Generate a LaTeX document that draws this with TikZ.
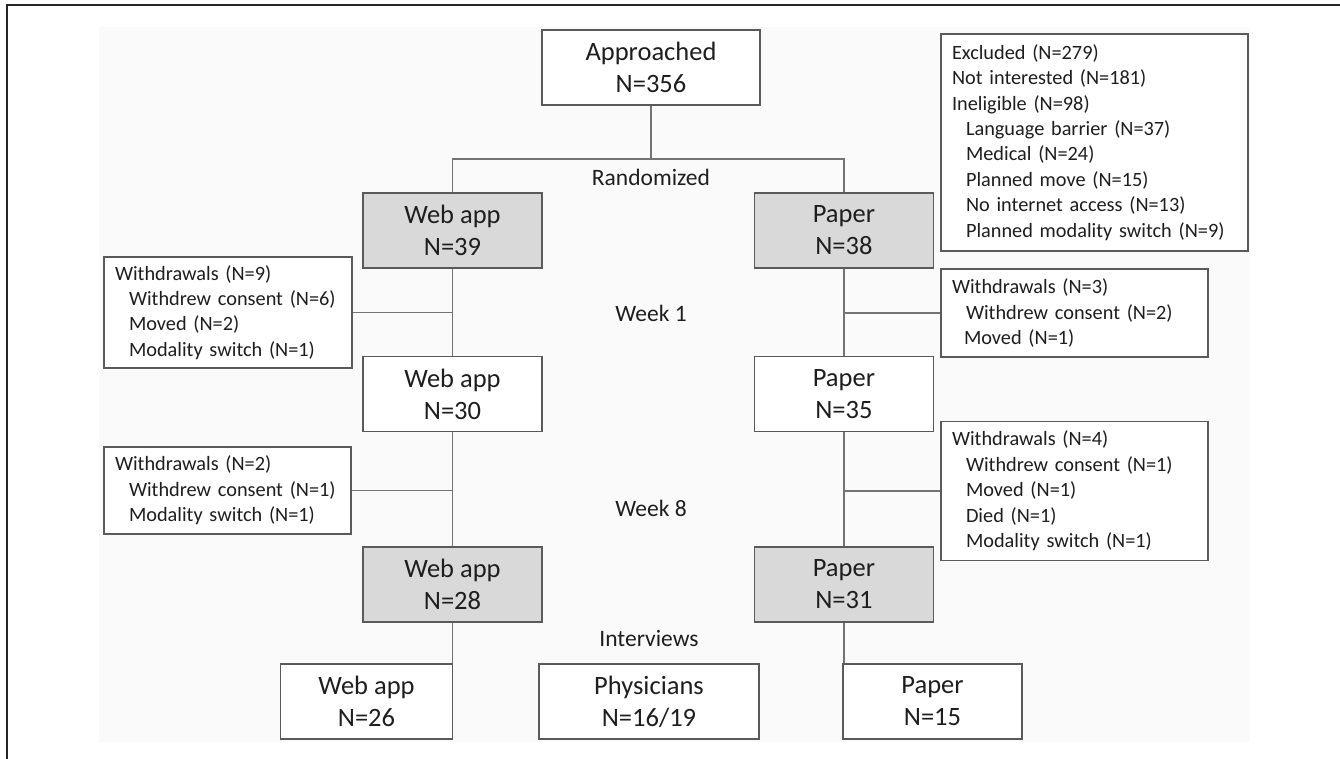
\documentclass[tikz,border=0pt]{standalone}
\usepackage{fontspec}
\setmainfont{Carlito}
\usepackage{tikz}
\usetikzlibrary{positioning, calc}
\usepackage{xcolor}
\definecolor{boxline}{HTML}{5A5A5A}
\definecolor{armfill}{HTML}{D9D9D9}
\definecolor{inktext}{HTML}{1E1E1E}
\newcommand{\sublist}{\hspace*{15pt}}
\tikzstyle{count} = [rectangle, minimum width=179pt, minimum height=75pt, inner sep=0pt, align=center, draw=boxline, line width=1.4pt, fill=white, text=inktext, font=\fontsize{26.5}{32}\selectfont]
\tikzstyle{arm} = [count, fill=armfill]
\tikzstyle{reason} = [rectangle, inner xsep=10pt, inner ysep=0pt, align=left, draw=boxline, line width=1.4pt, fill=white, text=inktext, font=\fontsize{20.3}{25.4}\selectfont]
\tikzstyle{phase} = [text=inktext, font=\fontsize{23.5}{28}\selectfont]
\tikzstyle{link} = [draw=boxline!85, line width=1.2pt]

\begin{document}
\begin{tikzpicture}[x=1pt, y=-1pt]
        \useasboundingbox (0,0) rectangle (1340,759);
        \fill[black!2] (99,27) rectangle (1250,742);
        \draw[line width=2pt, black!85] (7,759) -- (7,5) -- (1340,5);

        \node (approached) [count, minimum width=218pt] at (651,67.5) {Approached\\N=356};
        \node (webA) [arm] at (452.5,230.5) {Web app\\N=39};
        \node (papA) [arm, right=211pt of webA] {Paper\\N=38};
        \node (webB) [count, below=87pt of webA] {Web app\\N=30};
        \node (papB) [count, below=87pt of papA] {Paper\\N=35};
        \node (webC) [arm, below=114pt of webB] {Web app\\N=28};
        \node (papC) [arm, below=114pt of papB] {Paper\\N=31};
        \node (webD) [count, minimum width=172pt] at (366.5,701.5) {Web app\\N=26};
        \node (phys) [count, minimum width=220pt] at (649,701.5) {Physicians\\N=16/19};
        \node (papD) [count] at (932.5,701.5) {Paper\\N=15};

        \node (excl) [reason, text width=287pt, minimum height=217pt] at (1094.5,142.5) {\hspace*{1pt}Excluded (N=279)\\\hspace*{1pt}Not interested (N=181)\\\hspace*{1pt}Ineligible (N=98)\\\hspace*{15pt}Language barrier (N=37)\\\hspace*{15pt}Medical (N=24)\\\hspace*{15pt}Planned move (N=15)\\\hspace*{15pt}No internet access (N=13)\\\hspace*{15pt}Planned modality switch (N=9)};
        \node (wd9) [reason, text width=228pt, minimum height=111pt] at (228,312.5) {\hspace*{1pt}Withdrawals (N=9)\\\sublist Withdrew consent (N=6)\\\sublist Moved (N=2)\\\sublist Modality switch (N=1)};
        \node (wd3) [reason, text width=247pt, minimum height=88pt] at (1074.5,313) {\hspace*{1pt}Withdrawals (N=3)\\\sublist Withdrew consent (N=2)\\\hspace*{13pt}Moved (N=1)};
        \node (wd2) [reason, text width=227pt, minimum height=87pt] at (227.5,490.5) {\hspace*{1pt}Withdrawals (N=2)\\\sublist Withdrew consent (N=1)\\\sublist Modality switch (N=1)};
        \node (wd4) [reason, text width=247pt, minimum height=139pt] at (1074.5,491) {\hspace*{1pt}Withdrawals (N=4)\\\sublist Withdrew consent (N=1)\\\sublist Moved (N=1)\\\sublist Died (N=1)\\\sublist Modality switch (N=1)};

        \node (rand) [phase] at (651,177) {Randomized};
        \node (week1) [phase] at (651,313) {Week 1};
        \node (week8) [phase] at (651,508) {Week 8};
        \node (interv) [phase] at (649,638) {Interviews};

        \coordinate (split) at (651,159);
        \draw [link] (approached) -- (split);
        \draw [link] (webA.north) |- (split) -| (papA.north);
        \draw [link] (webA) -- (webB);
        \draw [link] (papA) -- (papB);
        \draw [link] (webB) -- (webC);
        \draw [link] (papB) -- (papC);
        \draw [link] (webC.south) -- (webC.south |- webD.north);
        \draw [link] (papC.south) -- (papC.south |- papD.north);
        \draw [link] (wd9.east) -- (wd9.east -| webA.south);
        \draw [link] (wd3.west) -- (wd3.west -| papA.south);
        \draw [link] (wd2.east) -- (wd2.east -| webB.south);
        \draw [link] (wd4.west) -- (wd4.west -| papB.south);
    \end{tikzpicture}
\end{document}
